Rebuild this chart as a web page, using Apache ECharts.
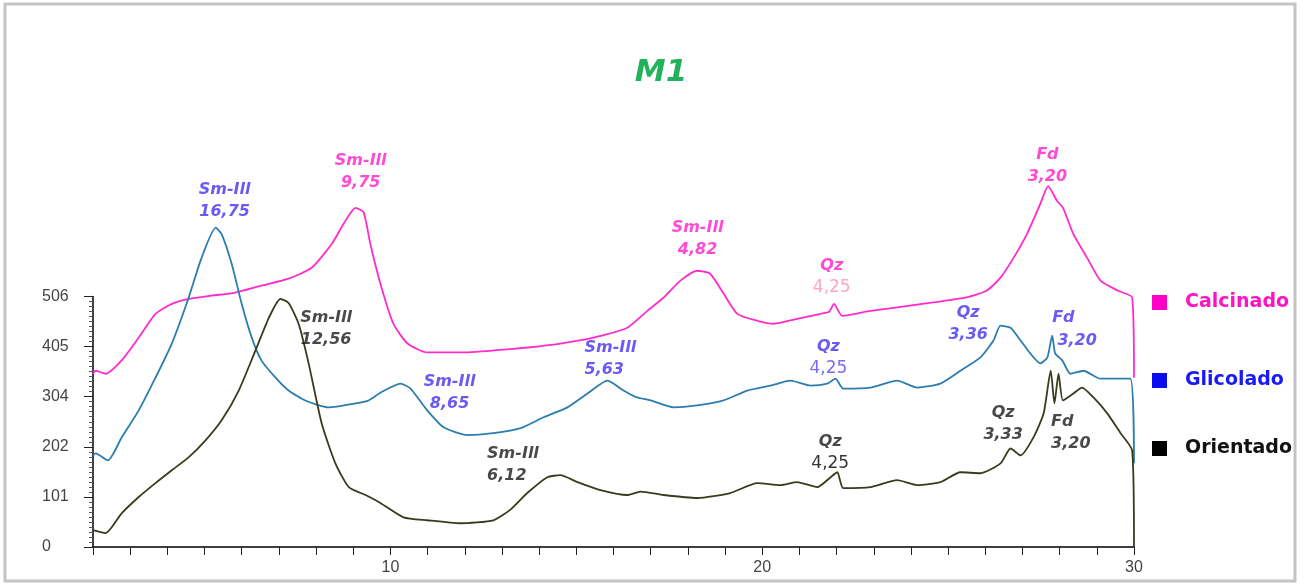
<!DOCTYPE html>
<html>
<head>
<meta charset="utf-8">
<script src="https://cdn.jsdelivr.net/npm/echarts@6/dist/echarts.min.js"></script>
<style>
html,body{margin:0;padding:0;background:#fff;}
#chart{width:1304px;height:586px;}
</style>
</head>
<body>
<div id="chart"></div>
<script>
// ---- DATA (2θ in degrees, intensity in counts) ----
const calcinadoX = [2.0,2.07,2.34,2.77,3.23,3.68,4.12,4.57,5.11,5.83,6.53,7.26,7.88,8.42,8.79,9.06,9.28,9.46,9.73,10.08,10.46,10.99,11.88,12.77,13.68,14.57,15.46,16.37,16.91,17.35,17.8,18.25,18.6,18.96,19.33,19.87,20.31,20.94,21.57,21.8,21.93,22.15,22.91,23.63,24.6,25.5,26.04,26.41,26.76,27.12,27.48,27.69,27.93,28.09,28.37,28.74,29.1,29.56,29.95,30.0];
const calcinadoY = [350,356,350,377,423,471,491,501,507,514,528,542,564,612,659,685,676,612,532,451,411,393,393,397,403,411,423,443,477,504,538,558,552,512,471,457,451,461,471,475,491,467,477,484,494,504,518,544,584,632,693,729,699,685,632,584,538,518,504,342];

const glicoladoX = [2.0,2.07,2.4,2.77,3.23,3.68,4.12,4.57,4.92,5.3,5.46,5.73,6.0,6.27,6.53,6.91,7.26,7.71,8.33,9.06,9.41,9.74,10.27,10.54,10.99,11.43,12.07,12.77,13.5,14.12,14.76,15.3,15.84,16.27,16.6,17.0,17.62,18.25,18.96,19.6,20.22,20.76,21.3,21.75,21.97,22.18,22.91,23.63,24.17,24.79,25.33,25.87,26.22,26.41,26.68,26.95,27.21,27.48,27.67,27.8,27.88,28.07,28.29,28.64,29.1,29.9,30.0];
const glicoladoY = [185,189,175,221,276,342,411,503,584,645,632,572,491,423,377,342,316,296,282,290,296,312,330,320,276,242,226,230,240,262,282,310,336,316,303,296,282,286,296,316,326,336,326,330,340,320,322,336,322,330,356,383,417,447,443,417,391,371,383,427,391,377,350,356,340,340,169];

const orientadoX = [2.0,2.34,2.77,3.23,3.68,4.12,4.57,5.02,5.46,5.92,6.37,6.73,7.04,7.26,7.53,7.8,8.15,8.52,8.88,9.33,9.73,10.35,10.99,11.88,12.77,13.22,13.68,14.22,14.57,15.03,15.65,16.37,16.73,17.35,18.25,19.14,19.87,20.49,20.94,21.48,21.84,22.02,22.18,22.91,23.63,24.17,24.79,25.33,25.87,26.41,26.68,26.95,27.3,27.57,27.76,27.86,27.97,28.09,28.37,28.6,28.91,29.28,29.64,29.95,30.0];
const orientadoY = [34,28,68,101,129,155,181,215,256,316,397,463,501,493,451,371,250,169,121,105,89,60,54,48,54,75,109,141,145,131,115,105,112,105,99,109,129,125,131,121,141,151,119,121,135,125,131,151,149,169,199,185,222,270,356,290,350,296,310,322,302,270,230,195,0];

const seriesNames = ['Calcinado','Glicolado','Orientado'];
const yTickLabels = ['0','101','202','304','405','506'];
const xTickLabels = [10,20,30];
const titleText = 'M1';

// peak annotations: [2θ, intensity, mineral, d-spacing]
const calcinadoNotes = [[9.2,757,'Sm-Ill','9,75'],[18.26,623,'Sm-Ill','4,82'],[21.87,546,'Qz','4,25'],[27.67,769,'Fd','3,20']];
const glicoladoNotes = [[5.54,699,'Sm-Ill','16,75'],[11.59,312,'Sm-Ill','8,65'],[21.78,383,'Qz','4,25'],[25.54,451,'Qz','3,36'],[28.1,463,'Fd',''],[28.47,417,'','3,20']];
const glicoladoNotesLeft = [[15.22,381,'Sm-Ill','5,63']];
const orientadoNotes = [[8.27,440,'Sm-Ill','12,56'],[21.83,191,'Qz','4,25'],[26.48,248,'Qz','3,33']];
const orientadoNotesLeft = [[12.6,165,'Sm-Ill','6,12'],[27.77,230,'Fd','3,20']];
const plainText = '4,25';

// ---- BUILD ----
const zip = (xs, ys) => xs.map((x, i) => [x, ys[i]]);
const FONT = '"DejaVu Sans", Verdana, sans-serif';
const rich = {
  m:  {color:'#ff1ec8', fontWeight:'bold', fontStyle:'italic', fontSize:16, fontFamily:FONT, lineHeight:22},
  mp: {color:'#ff8fb0', fontWeight:'normal', fontSize:17, fontFamily:FONT, lineHeight:22},
  b:  {color:'#4630f2', fontWeight:'bold', fontStyle:'italic', fontSize:16, fontFamily:FONT, lineHeight:22},
  bn: {color:'#5a46f0', fontWeight:'normal', fontSize:17, fontFamily:FONT, lineHeight:22},
  k:  {color:'#1a1a1a', fontWeight:'bold', fontStyle:'italic', fontSize:16, fontFamily:FONT, lineHeight:22},
  kn: {color:'#000000', fontWeight:'normal', fontSize:17, fontFamily:FONT, lineHeight:22}
};
function noteSeries(notes, s1, s2, align, plainStyle) {
  return {
    type:'scatter', silent:true, clip:false, symbolSize:0, z:5,
    data: notes.map(n => {
      const st2 = (n[3] === plainText && plainStyle) ? plainStyle : s2;
      const parts = [];
      if (n[2]) parts.push('{' + s1 + '|' + n[2] + '}');
      if (n[3]) parts.push('{' + st2 + '|' + n[3] + '}');
      return {value:[n[0], n[1]], label:{show:true, position:'inside', align:align, verticalAlign:'middle', formatter: parts.join('\n'), rich:rich}};
    })
  };
}

const chart = echarts.init(document.getElementById('chart'), null, {renderer:'canvas'});
const legendBase = {orient:'vertical', icon:'rect', itemWidth:15, itemHeight:15, padding:0, selectedMode:false,
  textStyle:{fontSize:19, fontWeight:'bold', fontFamily:FONT, padding:[0,0,0,13]}};
chart.setOption({
  animation:false,
  backgroundColor:'#ffffff',
  title:{text:titleText, left:656, textAlign:'center', top:52,
    textStyle:{color:'#22b25c', fontSize:31, fontWeight:'bold', fontStyle:'italic', fontFamily:FONT}},
  graphic:[{type:'rect', shape:{x:5, y:4, width:1290, height:577}, style:{fill:'none', stroke:'#c4c4c4', lineWidth:3}, silent:true}],
  legend:[
    Object.assign({}, legendBase, {left:1152, top:293, data:[{name:seriesNames[0], itemStyle:{color:'#ff00c8'}, textStyle:{color:'#ff14c4'}}]}),
    Object.assign({}, legendBase, {left:1152, top:371, data:[{name:seriesNames[1], itemStyle:{color:'#0a0aee'}, textStyle:{color:'#1a1af5'}}]}),
    Object.assign({}, legendBase, {left:1152, top:439, data:[{name:seriesNames[2], itemStyle:{color:'#000000'}, textStyle:{color:'#111111'}}]})
  ],
  grid:{left:93, right:170, top:296.5, bottom:39, containLabel:false},
  xAxis:{type:'value', min:2, max:30, interval:1,
    axisLine:{show:true, onZero:false, lineStyle:{color:'#000', width:1.5}},
    axisTick:{show:true, inside:false, length:8, lineStyle:{color:'#222'}},
    axisLabel:{show:true, margin:13, color:'#444', fontSize:16, fontFamily:'"Liberation Sans Narrow", "Liberation Sans", sans-serif',
      formatter: v => xTickLabels.includes(Math.round(v)) ? String(Math.round(v)) : '', hideOverlap:false},
    splitLine:{show:false}},
  yAxis:{type:'value', min:0, max:506, interval:101.2,
    axisLine:{show:true, lineStyle:{color:'#000', width:1.5}},
    axisTick:{show:true, length:9, lineStyle:{color:'#222'}},
    minorTick:{show:true, splitNumber:10, length:4, lineStyle:{color:'#555'}},
    axisLabel:{show:true, margin:51, align:'left', verticalAlign:'middle', padding:[22,0,0,0], color:'#444', fontSize:16,
      fontFamily:'"Liberation Sans Narrow", "Liberation Sans", sans-serif',
      formatter:(v, i) => yTickLabels[i] !== undefined ? yTickLabels[i] : '', hideOverlap:false},
    splitLine:{show:false}},
  series:[
    {name:seriesNames[0], type:'line', data:zip(calcinadoX, calcinadoY), showSymbol:false, clip:false, smooth:0.2,
      lineStyle:{color:'#ff2ccb', width:1.8}, itemStyle:{color:'#ff2ccb'}, z:3},
    {name:seriesNames[1], type:'line', data:zip(glicoladoX, glicoladoY), showSymbol:false, clip:false, smooth:0.2,
      lineStyle:{color:'#2b7dad', width:1.8}, itemStyle:{color:'#2b7dad'}, z:3},
    {name:seriesNames[2], type:'line', data:zip(orientadoX, orientadoY), showSymbol:false, clip:false, smooth:0.2,
      lineStyle:{color:'#3a3a1c', width:1.8}, itemStyle:{color:'#3a3a1c'}, z:3},
    noteSeries(calcinadoNotes, 'm', 'm', 'center', 'mp'),
    noteSeries(glicoladoNotes, 'b', 'b', 'center', 'bn'),
    noteSeries(glicoladoNotesLeft, 'b', 'b', 'left'),
    noteSeries(orientadoNotes, 'k', 'k', 'center', 'kn'),
    noteSeries(orientadoNotesLeft, 'k', 'k', 'left')
  ]
});
</script>
</body>
</html>
